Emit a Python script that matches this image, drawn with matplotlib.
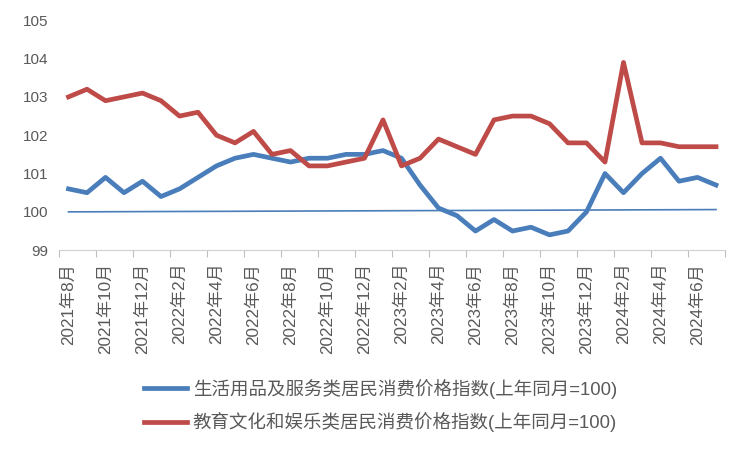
import matplotlib
matplotlib.use("Agg")
import matplotlib.pyplot as plt
import numpy as np

plt.rcParams['font.family'] = ['Liberation Sans', 'Noto Sans CJK SC', 'DejaVu Sans']

# months 2021-08 .. 2024-07
months = ['2021年8月', '2021年9月', '2021年10月', '2021年11月', '2021年12月',
          '2022年1月', '2022年2月', '2022年3月', '2022年4月', '2022年5月', '2022年6月',
          '2022年7月', '2022年8月', '2022年9月', '2022年10月', '2022年11月', '2022年12月',
          '2023年1月', '2023年2月', '2023年3月', '2023年4月', '2023年5月', '2023年6月',
          '2023年7月', '2023年8月', '2023年9月', '2023年10月', '2023年11月', '2023年12月',
          '2024年1月', '2024年2月', '2024年3月', '2024年4月', '2024年5月', '2024年6月',
          '2024年7月']

daily_goods = [100.6, 100.5, 100.9, 100.5, 100.8, 100.4, 100.6, 100.9, 101.2, 101.4,
               101.5, 101.4, 101.3, 101.4, 101.4, 101.5, 101.5, 101.6, 101.4, 100.7,
               100.1, 99.9, 99.5, 99.8, 99.5, 99.6, 99.4, 99.5, 100.0, 101.0,
               100.5, 101.0, 101.4, 100.8, 100.9, 100.7]

education = [103.0, 103.2, 102.9, 103.0, 103.1, 102.9, 102.5, 102.6, 102.0, 101.8,
             102.1, 101.5, 101.6, 101.2, 101.2, 101.3, 101.4, 102.4, 101.2, 101.4,
             101.9, 101.7, 101.5, 102.4, 102.5, 102.5, 102.3, 101.8, 101.8, 101.3,
             103.9, 101.8, 101.8, 101.7, 101.7, 101.7]

# thin reference line (start / end values)
baseline = [100.0, 100.06]

label1 = '生活用品及服务类居民消费价格指数(上年同月=100)'
label2 = '教育文化和娱乐类居民消费价格指数(上年同月=100)'

blue = '#4a7ebb'
red = '#be4b48'
gray = '#595959'

fig = plt.figure(figsize=(7.5, 4.5), dpi=100)
ax = fig.add_axes([0.079, 0.444, 0.888, 0.511])

x = np.arange(len(months))
ax.plot(x, daily_goods, color=blue, lw=3.4, solid_joinstyle='round', label=label1)
ax.plot(x, education, color=red, lw=3.4, solid_joinstyle='round', label=label2)
ax.plot([x[0], x[-1]], baseline, color=blue, lw=1.2)

ax.set_xlim(-0.5, len(months) - 0.5)
ax.set_ylim(99, 105)
ax.set_yticks(np.arange(99, 106, 1))
ax.tick_params(axis='y', length=0, labelsize=11, labelcolor=gray, pad=8)

ax.set_xticks(x[::2])
ax.set_xticklabels(months[::2], rotation=90, fontsize=12.3, color=gray)
ax.set_xticks(np.arange(-0.5, len(months), 2), minor=True)
ax.tick_params(axis='x', which='major', length=0, pad=9)
ax.tick_params(axis='x', which='minor', length=5, color='#bfbfbf', width=0.8)

for s in ['top', 'right', 'left']:
    ax.spines[s].set_visible(False)
ax.spines['bottom'].set_color('#d0d0d0')
ax.spines['bottom'].set_linewidth(0.8)

leg = fig.legend(loc='upper left', bbox_to_anchor=(0.182, 0.175), frameon=False,
                 fontsize=13.3, handlelength=2.35, handletextpad=0.3,
                 labelspacing=0.75, borderaxespad=0)
for t in leg.get_texts():
    t.set_color(gray)

fig.savefig('out.png', dpi=100)
